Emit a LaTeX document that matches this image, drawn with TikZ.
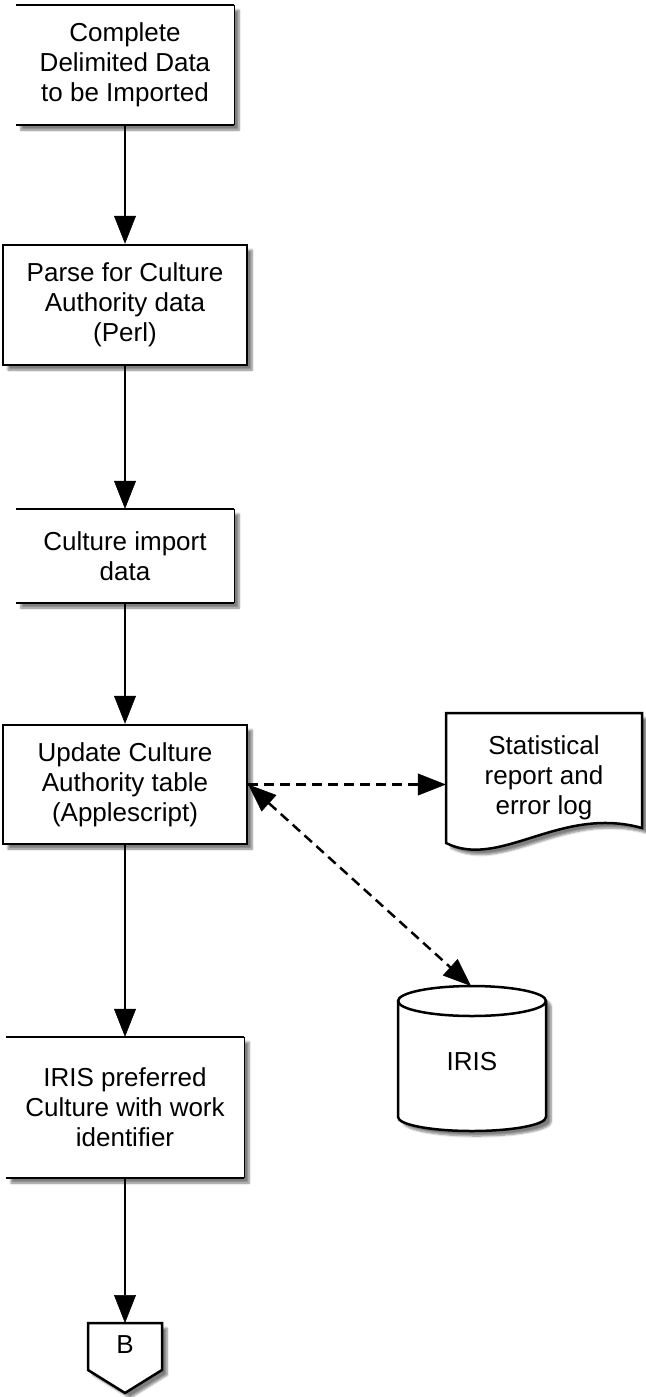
\documentclass[tikz,border=0pt]{standalone}
\usepackage{fontspec}
\setmainfont{Liberation Sans}
\usetikzlibrary{arrows.meta,shadows.blur}
\begin{document}
\begin{tikzpicture}[x=1pt,y=-1pt,
  txt/.style={font=\fontsize{26}{30}\selectfont, align=center, inner sep=0pt},
  sh/.style={blur shadow={shadow xshift=5pt, shadow yshift=-5pt, shadow blur steps=6, shadow opacity=50}},
  proc/.style={txt, draw=black, line width=2.5pt, fill=white, sh, minimum width=244pt},
  datab/.style={txt, fill=white, sh, minimum width=218pt},
  thickline/.style={line width=2.5pt},
  thinline/.style={line width=0.9pt},
  tip/.tip={Triangle[length=28pt,width=22pt,color=black,fill=black,line width=0.5pt]},
  flow/.style={draw=black, line width=2.5pt, -tip},
  dflow/.style={draw=black, line width=2.5pt, dash pattern=on 10pt off 6pt, -tip},
  dboth/.style={draw=black, line width=2.5pt, dash pattern=on 10pt off 6pt, tip-tip},
  shapeline/.style={draw=black, line width=2.5pt, fill=white, sh},
]
\useasboundingbox (0,0) rectangle (645,1397);

% data box 1
\node[datab, minimum height=120pt] (d1) at (125,65) {Complete\\Delimited Data\\to be Imported};
\draw[thickline] (d1.north west) -- (d1.north east);
\draw[thickline] (d1.south west) -- (d1.south east);
\draw[thinline] (d1.north east) -- (d1.south east);

% process 1
\node[proc, minimum height=120pt] (p1) at (125,305) {Parse for Culture\\Authority data\\(Perl)};

% data box 2
\node[datab, minimum height=94pt] (d2) at (125,556) {Culture import\\data};
\draw[thickline] (d2.north west) -- (d2.north east);
\draw[thickline] (d2.south west) -- (d2.south east);
\draw[thinline] (d2.north east) -- (d2.south east);

% process 2
\node[proc, minimum height=119pt] (p2) at (125,784.5) {Update Culture\\Authority table\\(Applescript)};

% data box 3
\node[datab, minimum width=238pt, minimum height=141pt] (d3) at (125,1107.5) {IRIS preferred\\Culture with work\\identifier};
\draw[thickline] (d3.north west) -- (d3.north east);
\draw[thickline] (d3.south west) -- (d3.south east);
\draw[thinline] (d3.north east) -- (d3.south east);

% off-page connector B
\path[shapeline] (88,1323) -- (162,1323) -- (162,1370) -- (125,1393) -- (88,1370) -- cycle;
\node[txt] (b) at (125,1345) {B};
\coordinate (btop) at (125,1323);

% document shape
\path[shapeline] (446,713) -- (642,713) -- (642,828) .. controls (560,805) and (500,870) .. (446,843) -- cycle;
\node[txt, minimum width=196pt, minimum height=130pt] (doc) at (544,778) {Statistical\\report and\\error log};

% cylinder
\path[shapeline] (398,1001) -- (398,1117) arc[start angle=180, end angle=0, x radius=74, y radius=14]
  -- (546,1001) arc[start angle=0, end angle=-180, x radius=74, y radius=15] -- cycle;
\draw[line width=2.5pt] (398,1001) arc[start angle=180, end angle=0, x radius=74, y radius=15];
\node[txt] (iris) at (472,1062) {IRIS};
\coordinate (cyltop) at (471,986);

% connectors
\draw[flow] (d1.south) -- (p1.north);
\draw[flow] (p1.south) -- (d2.north);
\draw[flow] (d2.south) -- (p2.north);
\draw[flow] (p2.south) -- (d3.north);
\draw[flow] (d3.south) -- (btop);
\draw[dflow] (p2.east) -- (p2.east -| doc.west);
\draw[dboth] (p2.east) -- (cyltop);
\end{tikzpicture}
\end{document}
